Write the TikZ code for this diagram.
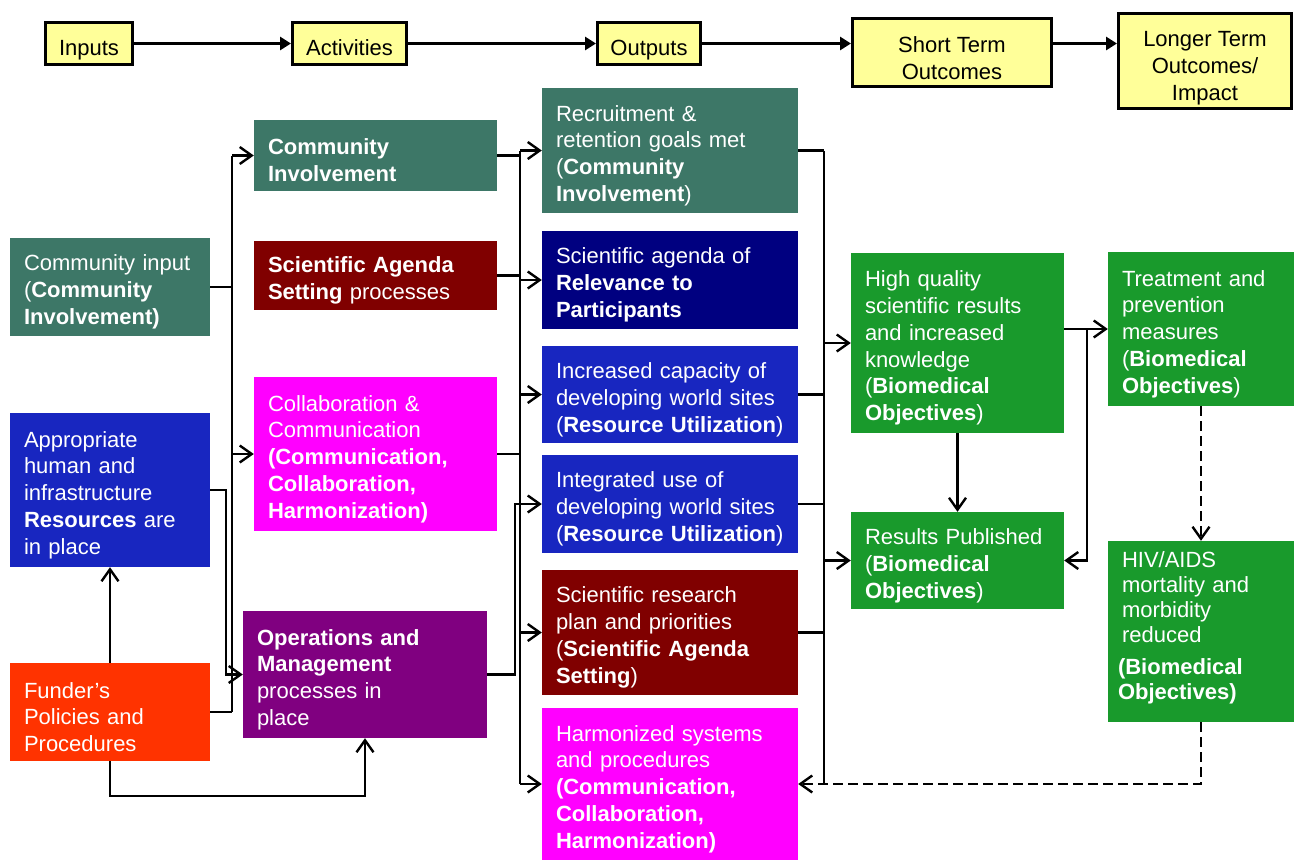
\documentclass[tikz,border=0pt]{standalone}
\usepackage{fontspec}
\setmainfont{Liberation Sans}
\usetikzlibrary{arrows.meta}
\definecolor{cteal}{HTML}{3D7767}
\definecolor{cdred}{HTML}{800000}
\definecolor{cmag}{HTML}{FF00FF}
\definecolor{cpur}{HTML}{800080}
\definecolor{cnavy}{HTML}{000080}
\definecolor{cblue}{HTML}{1826C0}
\definecolor{corg}{HTML}{FF3300}
\definecolor{cgrn}{HTML}{199A2C}
\definecolor{cyel}{HTML}{FFFF99}
\newcommand\bxfont{\fontsize{22}{26.8}\selectfont}
\begin{document}
\begin{tikzpicture}[x=1pt,y=-1pt,
  box/.style={rectangle, inner xsep=14pt, inner ysep=0pt, align=left, text=white, font=\bxfont,
    execute at begin node={\rule{0pt}{#1}}},
  box/.default=26pt,
  tbox/.style={rectangle, draw=black, line width=3pt, fill=cyel, align=center, font=\bxfont,
    inner sep=2pt, text depth=0pt},
  ln/.style={line width=2.4pt, draw=black},
  arr/.style={ln, -{Straight Barb[length=12pt,width=17pt]}},
  tarr/.style={line width=3pt, -{Triangle[length=11pt,width=13pt]}},
  dsh/.style={dash pattern=on 10pt off 5pt}
]
\useasboundingbox (0,0) rectangle (1294,860);

% top row
\node[tbox, minimum width=87pt, minimum height=42pt, text height=23pt] (inp) at (89,43.5) {Inputs};
\node[tbox, minimum width=114pt, minimum height=42pt, text height=23pt] (act) at (349.5,43.5) {Activities};
\node[tbox, minimum width=103pt, minimum height=42pt, text height=23pt] (out) at (649,43.5) {Outputs};
\node[tbox, minimum width=199pt, minimum height=68pt, text height=53pt] (st) at (952,52.5) {Short Term\\Outcomes};
\node[tbox, minimum width=173pt, minimum height=95pt, text height=78pt] (lt) at (1205,61) {Longer Term\\Outcomes/\\Impact};

% inputs
\node[box, fill=cteal, minimum width=200pt, minimum height=98pt, text width=172pt] (cin) at (110,287)
  {Community input\\(\textbf{Community}\\\textbf{Involvement)}};
\node[box, fill=cblue, minimum width=200pt, minimum height=154pt, text width=172pt] (app) at (110,490)
  {Appropriate\\human and\\infrastructure\\\textbf{Resources} are\\in place};
\node[box, fill=corg, minimum width=200pt, minimum height=98pt, text width=172pt] (fun) at (110,712)
  {Funder’s\\Policies and\\Procedures};

% activities
\node[box, fill=cteal, minimum width=243pt, minimum height=71pt, text width=215pt] (cinv) at (375.5,155.5)
  {\textbf{Community}\\\textbf{Involvement}};
\node[box, fill=cdred, minimum width=243pt, minimum height=69pt, text width=215pt] (sag) at (375.5,275.5)
  {\textbf{Scientific Agenda}\\\textbf{Setting} processes};
\node[box, fill=cmag, minimum width=243pt, minimum height=154pt, text width=215pt] (col) at (375.5,454)
  {Collaboration \&\\Communication\\\textbf{(Communication,}\\\textbf{Collaboration,}\\\textbf{Harmonization)}};
\node[box, fill=cpur, minimum width=244pt, minimum height=127pt, text width=216pt] (ops) at (365,674.5)
  {\textbf{Operations and}\\\textbf{Management}\\processes in\\place};

% outputs
\node[box, fill=cteal, minimum width=256pt, minimum height=125pt, text width=228pt] (rec) at (670,150.5)
  {Recruitment \&\\retention goals met\\(\textbf{Community}\\\textbf{Involvement})};
\node[box, fill=cnavy, minimum width=256pt, minimum height=98pt, text width=228pt] (rel) at (670,280)
  {Scientific agenda of\\\textbf{Relevance to}\\\textbf{Participants}};
\node[box, fill=cblue, minimum width=256pt, minimum height=97pt, text width=228pt] (inc) at (670,394.5)
  {Increased capacity of\\developing world sites\\(\textbf{Resource~Utilization})};
\node[box, fill=cblue, minimum width=256pt, minimum height=98pt, text width=228pt] (int) at (670,504)
  {Integrated use of\\developing world sites\\(\textbf{Resource~Utilization})};
\node[box, fill=cdred, minimum width=256pt, minimum height=125pt, text width=228pt] (sci) at (670,632.5)
  {Scientific research\\plan and priorities\\(\textbf{Scientific Agenda}\\\textbf{Setting})};
\node[box, fill=cmag, minimum width=256pt, minimum height=152pt, text width=228pt] (har) at (670,784)
  {Harmonized systems\\and procedures\\\textbf{(Communication,}\\\textbf{Collaboration,}\\\textbf{Harmonization)}};

% short term outcomes
\node[box, fill=cgrn, minimum width=213pt, minimum height=180pt, text width=185pt] (hq) at (957.5,343)
  {High quality\\scientific results\\and increased\\knowledge\\(\textbf{Biomedical}\\\textbf{Objectives})};
\node[box, fill=cgrn, minimum width=213pt, minimum height=97pt, text width=185pt] (res) at (957.5,560.5)
  {Results Published\\(\textbf{Biomedical}\\\textbf{Objectives})};

% longer term
\node[box, fill=cgrn, minimum width=186pt, minimum height=154pt, text width=158pt] (tre) at (1201,329)
  {Treatment and\\prevention\\measures\\(\textbf{Biomedical}\\\textbf{Objectives})};
\node[box=0pt, fill=cgrn, minimum width=186pt, minimum height=181pt, text width=158pt, text height=8pt,
  font=\fontsize{22}{25}\selectfont] (hiv) at (1201,631.5)
  {HIV/AIDS\\mortality and\\morbidity\\reduced\\[7pt]\hspace*{-4pt}\textbf{(Biomedical}\\\hspace*{-4pt}\textbf{Objectives)}};

% bus coordinates
\coordinate (busA) at (232,0);
\coordinate (busAp) at (226,0);
\coordinate (busB) at (520,0);
\coordinate (busBp) at (515,0);
\coordinate (busC) at (824,0);
\coordinate (busD) at (1087,0);
\coordinate (fbot) at (0,796);

% top row arrows
\draw[tarr] (inp.east) -- (act.west);
\draw[tarr] (act.east) -- (out.west);
\draw[tarr] (out.east) -- (out.east -| st.west);
\draw[tarr] (st.east |- out.east) -- (lt.west |- out.east);

% inputs -> activities
\draw[ln] (cin.east) -- (cin.east -| busA);
\draw[ln] (fun.east) -- (fun.east -| busA);
\draw[ln] (busA |- cinv.west) -- (busA |- fun.east);
\draw[arr] (busA |- cinv.west) -- (cinv.west);
\draw[arr] (busA |- col.west) -- (col.west);
\draw[arr] (app.east) -- (app.east -| busAp) |- (ops.west);
\draw[arr] (fun.north) -- (app.south);
\draw[arr] (fun.south) -- (fun.south |- fbot) -| (ops.south);

% activities -> outputs
\draw[ln] (cinv.east) -- (cinv.east -| busB);
\draw[ln] (sag.east) -- (sag.east -| busB);
\draw[ln] (col.east) -- (col.east -| busB);
\draw[ln] (busB |- rec.west) -- (busB |- har.west);
\draw[arr] (busB |- rec.west) -- (rec.west);
\draw[arr] (busB |- rel.west) -- (rel.west);
\draw[arr] (busB |- inc.west) -- (inc.west);
\draw[arr] (busB |- sci.west) -- (sci.west);
\draw[arr] (busB |- har.west) -- (har.west);
\draw[arr] (ops.east) -- (ops.east -| busBp) |- (int.west);

% outputs -> short term
\draw[ln] (rec.east) -- (rec.east -| busC);
\draw[ln] (inc.east) -- (inc.east -| busC);
\draw[ln] (int.east) -- (int.east -| busC);
\draw[ln] (sci.east) -- (sci.east -| busC);
\draw[ln] (busC |- rec.east) -- (busC |- har.east);
\draw[arr] (busC |- hq.west) -- (hq.west);
\draw[arr] (busC |- res.west) -- (res.west);
\draw[arr, dsh] (hiv.south) |- (har.east);

% short -> long
\draw[arr] (hq.east |- tre.west) -- (tre.west);
\draw[arr] (busD |- tre.west) |- (res.east);
\draw[arr] (hq.south) -- (res.north);
\draw[arr, dsh] (tre.south) -- (hiv.north);
\end{tikzpicture}
\end{document}
